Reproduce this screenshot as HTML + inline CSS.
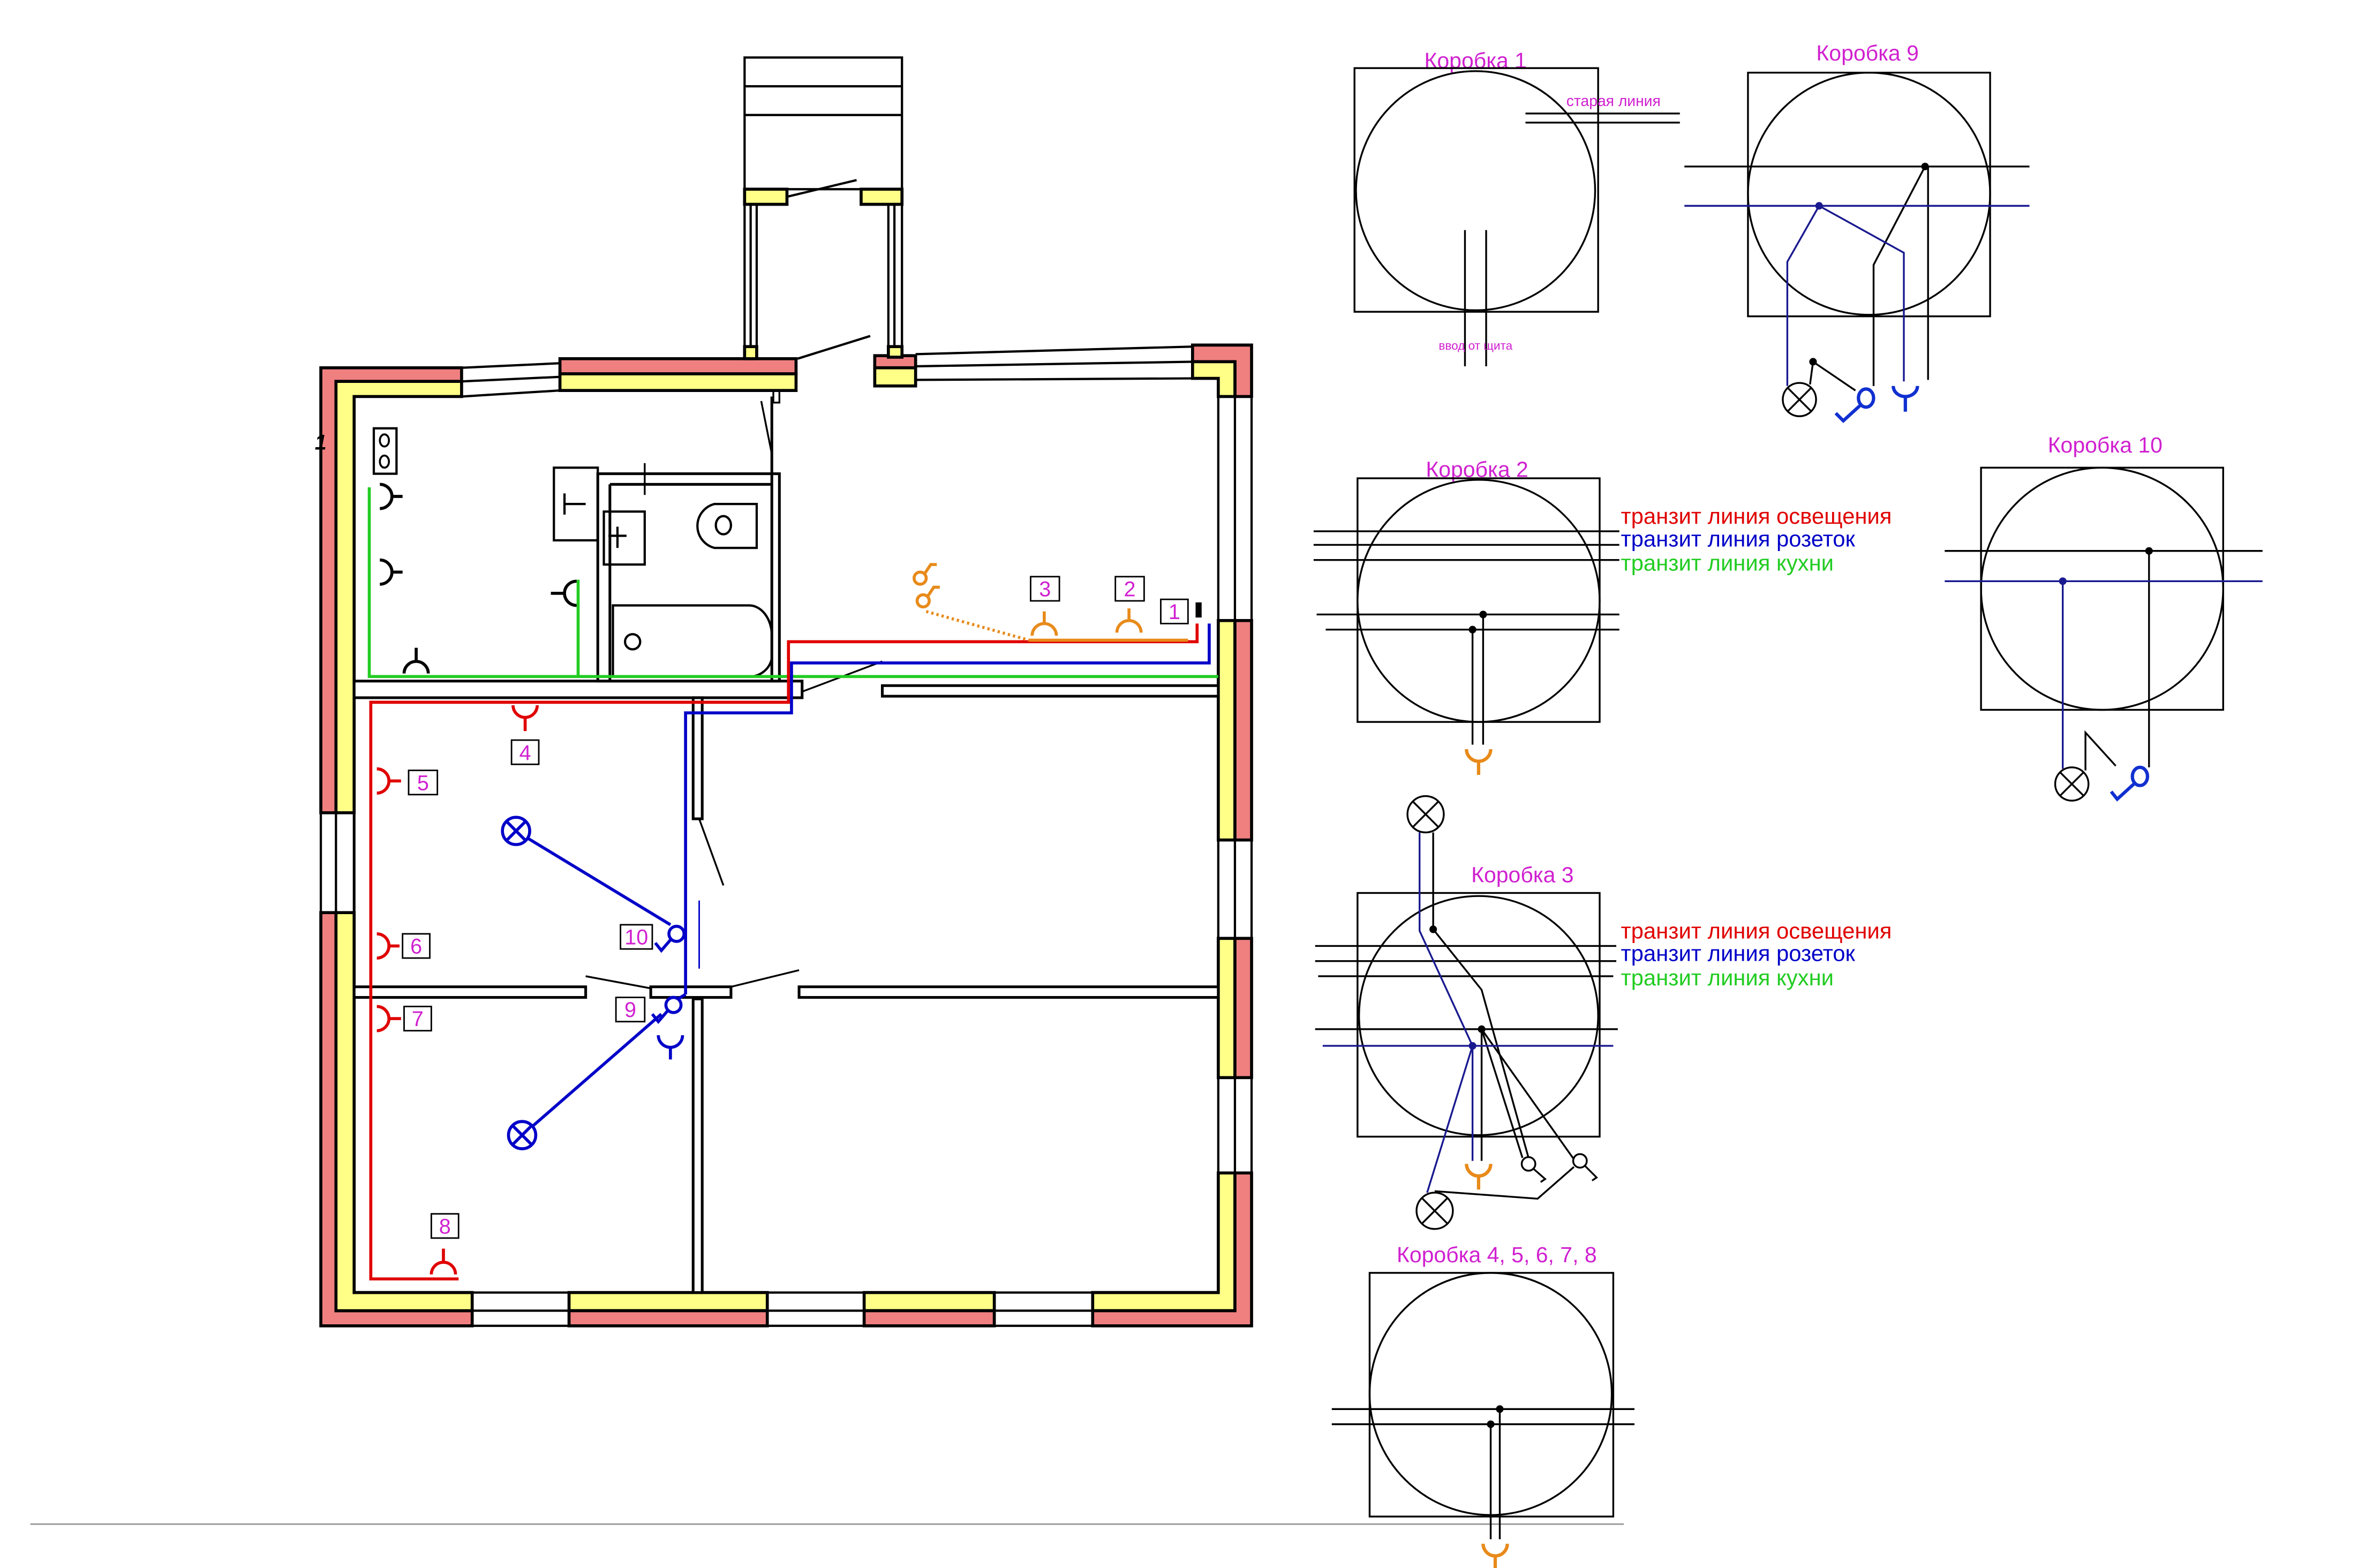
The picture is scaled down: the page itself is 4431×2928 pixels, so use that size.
<!DOCTYPE html>
<html><head><meta charset="utf-8"><style>
html,body{margin:0;padding:0;background:#fff;}
svg{display:block;}
text{font-family:"Liberation Sans","DejaVu Sans",sans-serif;}
</style></head><body>
<svg width="4431" height="2928" viewBox="0 0 1568 1036" preserveAspectRatio="none" xmlns="http://www.w3.org/2000/svg">
<rect x="0" y="0" width="1568" height="1036" fill="#fff"/>
<defs>
<g id="lamp"><circle r="9" fill="none" stroke-width="2"/><line x1="-6.4" y1="-6.4" x2="6.4" y2="6.4" stroke-width="2"/><line x1="-6.4" y1="6.4" x2="6.4" y2="-6.4" stroke-width="2"/></g>
</defs>

<!-- ===== Floor plan walls ===== -->
<g stroke="#000" stroke-width="2" stroke-linejoin="miter">
<polygon points="212,243 305,243 305,252 222,252 222,537 212,537" fill="#f08080"/>
<polygon points="222,252 305,252 305,262 234,262 234,537 222,537" fill="#ffff88"/>
<polygon points="212,603 222,603 222,866 312,866 312,876 212,876" fill="#f08080"/>
<polygon points="222,603 234,603 234,854 312,854 312,866 222,866" fill="#ffff88"/>
<rect x="376" y="854" width="131" height="12" fill="#ffff88"/><rect x="376" y="866" width="131" height="10" fill="#f08080"/>
<rect x="571" y="854" width="86" height="12" fill="#ffff88"/><rect x="571" y="866" width="86" height="10" fill="#f08080"/>
<polygon points="722,854 805,854 805,775 816,775 816,866 722,866" fill="#ffff88"/>
<polygon points="722,866 816,866 816,775 827,775 827,876 722,876" fill="#f08080"/>
<rect x="805" y="410" width="11" height="145" fill="#ffff88"/><rect x="816" y="410" width="11" height="145" fill="#f08080"/>
<rect x="805" y="620" width="11" height="92" fill="#ffff88"/><rect x="816" y="620" width="11" height="92" fill="#f08080"/>
<polygon points="788,228 827,228 827,262 816,262 816,239 788,239" fill="#f08080"/>
<polygon points="788,239 816,239 816,262 805,262 805,250 788,250" fill="#ffff88"/>
<rect x="370" y="237" width="156" height="10" fill="#f08080"/><rect x="370" y="247" width="156" height="11" fill="#ffff88"/>
<rect x="578" y="235" width="27" height="8" fill="#f08080"/><rect x="578" y="243" width="27" height="12" fill="#ffff88"/>
</g>
<g stroke="#000" stroke-width="1.5" fill="none">
<line x1="305" y1="243" x2="370" y2="240"/><line x1="305" y1="252" x2="370" y2="249"/><line x1="305" y1="262" x2="370" y2="258"/>
<line x1="605" y1="234" x2="788" y2="229"/><line x1="605" y1="242" x2="788" y2="239"/><line x1="605" y1="251" x2="788" y2="250"/>
<line x1="212" y1="537" x2="212" y2="603"/><line x1="222" y1="537" x2="222" y2="603"/><line x1="234" y1="537" x2="234" y2="603"/>
<line x1="312" y1="854" x2="376" y2="854"/><line x1="312" y1="866" x2="376" y2="866"/><line x1="312" y1="876" x2="376" y2="876"/>
<line x1="507" y1="854" x2="571" y2="854"/><line x1="507" y1="866" x2="571" y2="866"/><line x1="507" y1="876" x2="571" y2="876"/>
<line x1="657" y1="854" x2="722" y2="854"/><line x1="657" y1="866" x2="722" y2="866"/><line x1="657" y1="876" x2="722" y2="876"/>
<line x1="805" y1="262" x2="805" y2="410"/><line x1="816" y1="262" x2="816" y2="410"/><line x1="827" y1="262" x2="827" y2="410"/>
<line x1="805" y1="555" x2="805" y2="620"/><line x1="816" y1="555" x2="816" y2="620"/><line x1="827" y1="555" x2="827" y2="620"/>
<line x1="805" y1="712" x2="805" y2="775"/><line x1="816" y1="712" x2="816" y2="775"/><line x1="827" y1="712" x2="827" y2="775"/>
</g>
<g stroke="#000" stroke-width="1.5" fill="none">
<rect x="492" y="38" width="104" height="87"/>
<line x1="492" y1="57" x2="596" y2="57"/><line x1="492" y1="76" x2="596" y2="76"/>
<line x1="492" y1="135" x2="492" y2="230"/><line x1="496" y1="135" x2="496" y2="230"/><line x1="500" y1="135" x2="500" y2="230"/>
<line x1="587" y1="135" x2="587" y2="230"/><line x1="591" y1="135" x2="591" y2="230"/><line x1="596" y1="135" x2="596" y2="230"/>
<line x1="520" y1="130" x2="566" y2="119"/>
<line x1="527" y1="237" x2="575" y2="222"/>
</g>
<g stroke="#000" stroke-width="2">
<rect x="492" y="125" width="28" height="10" fill="#ffff88"/>
<rect x="569" y="125" width="27" height="10" fill="#ffff88"/>
<rect x="492" y="229" width="8" height="8" fill="#ffff88"/>
<rect x="587" y="229" width="9" height="7" fill="#ffff88"/>
</g>

<g stroke="#000" stroke-width="1.8" fill="none">
<line x1="234" y1="262" x2="234" y2="854"/>
<rect x="234" y="450" width="296" height="11" fill="#fff"/>
<rect x="583" y="453" width="222" height="7" fill="#fff"/>
<line x1="530" y1="457" x2="583" y2="437" stroke-width="1.2"/>
<rect x="458" y="461" width="6" height="80" fill="#fff"/>
<line x1="462" y1="541" x2="478" y2="585" stroke-width="1.2"/>
<rect x="458" y="660" width="6" height="194" fill="#fff"/>
<rect x="234" y="652" width="153" height="7" fill="#fff"/>
<rect x="528" y="652" width="277" height="7" fill="#fff"/>
<line x1="387" y1="645" x2="430" y2="653" stroke-width="1.2"/>
<line x1="483" y1="652" x2="528" y2="641" stroke-width="1.2"/>
<rect x="430" y="652" width="53" height="7" fill="#fff"/>
<rect x="395" y="313" width="120" height="137"/>
<line x1="403" y1="320" x2="403" y2="450"/>
<line x1="403" y1="320" x2="510" y2="320"/>
<line x1="510" y1="262" x2="510" y2="450"/>
<rect x="511" y="258" width="4" height="8" stroke-width="1.2"/>
<line x1="503" y1="265" x2="510" y2="300" stroke-width="1.2"/>
<line x1="426" y1="306" x2="426" y2="327" stroke-width="1.2"/>
<path d="M472,333 L500,333 L500,362 L472,362 A15,15 0 0 1 472,333 Z" stroke-width="1.5"/>
<ellipse cx="478" cy="347" rx="5" ry="6" stroke-width="1.5"/>
<path d="M405,447 L405,400 L495,400 A15,20 0 0 1 510,420 L510,435 A15,15 0 0 1 495,447 Z" stroke-width="1.5"/>
<ellipse cx="418" cy="424" rx="5" ry="5" stroke-width="1.5"/>
<rect x="399" y="338" width="27" height="35" stroke-width="1.5"/>
<line x1="402" y1="354" x2="414" y2="354" stroke-width="1.5"/><line x1="408" y1="348" x2="408" y2="362" stroke-width="1.5"/>
<rect x="366" y="309" width="29" height="48" stroke-width="1.5"/>
<line x1="373" y1="333" x2="387" y2="333" stroke-width="1.5"/><line x1="373" y1="326" x2="373" y2="340" stroke-width="1.5"/>
<rect x="247" y="283" width="15" height="30" stroke-width="1.5"/>
<ellipse cx="254" cy="291" rx="3" ry="4" stroke-width="1.3"/><ellipse cx="254" cy="305" rx="3" ry="4" stroke-width="1.3"/>
</g>
<text x="208" y="297" font-size="14" font-style="italic" font-weight="bold">1</text>

<g stroke="#22cc22" stroke-width="2" fill="none">
<polyline points="244,322 244,447 805,447"/>
<line x1="382" y1="383" x2="382" y2="447"/>
</g>
<g stroke="#000" stroke-width="2" fill="none">
<path d="M251,320 A8,8 0 0 1 251,336 M258,328 L266,328"/>
<path d="M251,370 A8,8 0 0 1 251,386 M258,378 L266,378"/>
<path d="M381,384 A8,8 0 0 0 381,400 M374,392 L364,392"/>
<path d="M267,445 A8,8 0 0 1 283,445 M275,437 L275,428"/>
</g>

<g stroke="#e00000" stroke-width="2" fill="none">
<polyline points="791,412 791,424 521,424 521,464 245,464 245,845 303,845"/>
<path d="M339,466 A8,8 0 0 0 355,466 M347,474 L347,483"/>
<path d="M249,508 A8,8 0 0 1 249,524 M256,516 L265,516"/>
<path d="M249,617 A8,8 0 0 1 249,633 M256,625 L264,625"/>
<path d="M249,665 A8,8 0 0 1 249,681 M256,673 L265,673"/>
<path d="M285,842 A8,8 0 0 1 301,842 M293,834 L293,825"/>
</g>
<g stroke="#0000c8" stroke-width="2" fill="none">
<polyline points="799,412 799,438 523,438 523,471 453,471 453,657"/>
<line x1="453" y1="657" x2="448" y2="660"/>
<line x1="349" y1="554" x2="443" y2="611"/>
<line x1="352" y1="744" x2="437" y2="670"/>
<line x1="462" y1="595" x2="462" y2="640" stroke-width="1"/>
<use href="#lamp" x="341" y="549" stroke="#0000c8"/>
<use href="#lamp" x="345" y="750" stroke="#0000c8"/>
<circle cx="447" cy="617" r="5"/><polyline points="443,621 437,628 433,623"/>
<circle cx="445" cy="664" r="5"/><polyline points="441,668 435,675 431,670"/>
<path d="M435,684 A8,8 0 0 0 451,684 M443,692 L443,700"/>
</g>
<g stroke="#e88a1a" stroke-width="2" fill="none">
<line x1="612" y1="404" x2="680" y2="423" stroke-dasharray="1.5,2"/>
<line x1="680" y1="423" x2="785" y2="423"/>
<path d="M682,420 A8,8 0 0 1 698,420 M690,412 L690,404"/>
<path d="M738,418 A8,8 0 0 1 754,418 M746,410 L746,402"/>
<circle cx="608" cy="382" r="4"/><polyline points="611,379 615,373 619,373"/>
<circle cx="610" cy="397" r="4"/><polyline points="613,394 617,388 621,388"/>
</g>
<rect x="790" y="398" width="4" height="10" fill="#000"/>

<g stroke="#000" stroke-width="1" fill="#fff">
<rect x="767" y="396" width="18" height="16"/><rect x="737" y="381" width="19" height="16"/><rect x="681" y="381" width="19" height="16"/>
<rect x="338" y="489" width="18" height="16"/><rect x="270" y="509" width="19" height="16"/><rect x="266" y="617" width="18" height="16"/>
<rect x="267" y="665" width="18" height="16"/><rect x="285" y="802" width="18" height="16"/><rect x="410" y="611" width="21" height="16"/>
<rect x="407" y="659" width="19" height="16"/>
</g>
<g fill="#d020d0" font-size="14" text-anchor="middle">
<text x="776" y="409">1</text><text x="746.5" y="394">2</text><text x="690.5" y="394">3</text>
<text x="347" y="502">4</text><text x="279.5" y="522">5</text><text x="275" y="630">6</text>
<text x="276" y="678">7</text><text x="294" y="815">8</text><text x="420.5" y="624">10</text><text x="416.5" y="672">9</text>
</g>

<line x1="20" y1="1007" x2="1073" y2="1007" stroke="#999" stroke-width="1"/>

<g fill="#d020d0" font-size="14.5" text-anchor="middle">
<text x="975" y="45">Коробка 1</text>
<text x="1234" y="40">Коробка 9</text>
<text x="976" y="315">Коробка 2</text>
<text x="1391" y="299">Коробка 10</text>
<text x="1006" y="583">Коробка 3</text>
<text x="989" y="834">Коробка 4, 5, 6, 7, 8</text>
</g>
<g stroke="#000" stroke-width="1.2" fill="none">
<rect x="895" y="45" width="161" height="161"/><circle cx="975" cy="126" r="79"/>
<line x1="1008" y1="75" x2="1110" y2="75"/><line x1="1008" y1="81" x2="1110" y2="81"/>
<line x1="968" y1="152" x2="968" y2="242"/><line x1="982" y1="152" x2="982" y2="242"/>
<rect x="1155" y="48" width="160" height="161"/><circle cx="1235" cy="128" r="80"/>
<line x1="1113" y1="110" x2="1341" y2="110"/>
<polyline points="1272,110 1238,175 1238,255"/>
<line x1="1274" y1="110" x2="1274" y2="251"/>
<line x1="1198" y1="239" x2="1196" y2="254"/><line x1="1198" y1="239" x2="1226" y2="258"/>
<rect x="897" y="316" width="160" height="161"/><circle cx="977" cy="397" r="80"/>
<line x1="868" y1="351" x2="1070" y2="351"/><line x1="868" y1="360" x2="1070" y2="360"/><line x1="868" y1="370" x2="1070" y2="370"/>
<line x1="870" y1="406" x2="1070" y2="406"/><line x1="876" y1="416" x2="1070" y2="416"/>
<line x1="973" y1="416" x2="973" y2="492"/><line x1="980" y1="406" x2="980" y2="492"/>
<rect x="1309" y="309" width="160" height="160"/><circle cx="1389" cy="389" r="80"/>
<line x1="1285" y1="364" x2="1495" y2="364"/>
<line x1="1420" y1="364" x2="1420" y2="507"/>
<polyline points="1378,509 1378,484 1398,506"/>
<rect x="897" y="590" width="160" height="161"/><circle cx="977" cy="671" r="79"/>
<line x1="869" y1="625" x2="1068" y2="625"/><line x1="869" y1="635" x2="1068" y2="635"/><line x1="871" y1="645" x2="1066" y2="645"/>
<line x1="869" y1="680" x2="1069" y2="680"/>
<polyline points="947,550 947,614 979,654 1010,765"/>
<line x1="979" y1="680" x2="979" y2="767"/>
<line x1="979" y1="680" x2="1006" y2="765"/>
<line x1="979" y1="680" x2="1040" y2="766"/>
<polyline points="948,787 1016,792 1040,771"/>
<circle cx="1010" cy="769" r="4.5"/><polyline points="1013,772 1021,779 1018,781"/>
<circle cx="1044" cy="767" r="4.5"/><polyline points="1047,770 1055,778 1052,780"/>
<rect x="905" y="841" width="161" height="161"/><circle cx="985" cy="921" r="80"/>
<line x1="880" y1="931" x2="1080" y2="931"/><line x1="880" y1="941" x2="1080" y2="941"/>
<line x1="985" y1="941" x2="985" y2="1017"/><line x1="991" y1="931" x2="991" y2="1017"/>
</g>
<g stroke="#1a1a90" stroke-width="1.2" fill="none">
<line x1="1113" y1="136" x2="1341" y2="136"/>
<polyline points="1202,136 1181,173 1181,255"/>
<polyline points="1202,136 1258,167 1258,252"/>
<line x1="1285" y1="384" x2="1495" y2="384"/>
<line x1="1363" y1="384" x2="1363" y2="508"/>
<line x1="874" y1="691" x2="1066" y2="691"/>
<polyline points="938,550 938,615 973,691"/>
<line x1="973" y1="691" x2="973" y2="767"/>
<line x1="973" y1="691" x2="943" y2="788"/>
</g>
<g fill="#000">
<circle cx="1272" cy="110" r="2.5"/><circle cx="1198" cy="239" r="2.5"/>
<circle cx="980" cy="406" r="2.5"/><circle cx="973" cy="416" r="2.5"/>
<circle cx="1420" cy="364" r="2.5"/>
<circle cx="947" cy="614" r="2.5"/><circle cx="979" cy="680" r="2.5"/>
<circle cx="991" cy="931" r="2.5"/><circle cx="985" cy="941" r="2.5"/>
</g>
<g fill="#1a1a90">
<circle cx="1202" cy="136" r="2.5"/><circle cx="1363" cy="384" r="2.5"/><circle cx="973" cy="691" r="2.5"/>
</g>
<g stroke="#000" stroke-width="1.2" fill="none">
<circle cx="1189" cy="264" r="11"/><line x1="1181" y1="256" x2="1197" y2="272"/><line x1="1181" y1="272" x2="1197" y2="256"/>
<circle cx="942" cy="538" r="12"/><line x1="933.5" y1="529.5" x2="950.5" y2="546.5"/><line x1="933.5" y1="546.5" x2="950.5" y2="529.5"/>
<circle cx="948" cy="800" r="12"/><line x1="939.5" y1="791.5" x2="956.5" y2="808.5"/><line x1="939.5" y1="808.5" x2="956.5" y2="791.5"/>
<circle cx="1369" cy="518" r="11"/><line x1="1361" y1="510" x2="1377" y2="526"/><line x1="1361" y1="526" x2="1377" y2="510"/>
</g>
<g stroke="#1030d0" stroke-width="2.2" fill="none">
<ellipse cx="1233" cy="263" rx="5" ry="6"/><polyline points="1229,268 1218,278 1213,273"/>
<path d="M1251,255 A8,7 0 0 0 1267,255 M1259,262 L1259,272"/>
<ellipse cx="1414" cy="513" rx="5" ry="6"/><polyline points="1410,518 1399,528 1395,523"/>
</g>
<g stroke="#e88a1a" stroke-width="2.2" fill="none">
<path d="M969,495 A8,8 0 0 0 985,495 M977,503 L977,512"/>
<path d="M969,769 A8,8 0 0 0 985,769 M977,777 L977,786"/>
<path d="M980,1020 A8,8 0 0 0 996,1020 M988,1028 L988,1036"/>
</g>
<text x="1035" y="70" font-size="10" fill="#d020d0">старая линия</text>
<text x="975" y="231" font-size="8" fill="#d020d0" text-anchor="middle">ввод от щита</text>
<g font-size="14.8">
<text x="1071" y="346" fill="#e00000">транзит линия освещения</text>
<text x="1071" y="361" fill="#0000c8">транзит линия розеток</text>
<text x="1071" y="377" fill="#22cc22">транзит линия кухни</text>
<text x="1071" y="620" fill="#e00000">транзит линия освещения</text>
<text x="1071" y="635" fill="#0000c8">транзит линия розеток</text>
<text x="1071" y="651" fill="#22cc22">транзит линия кухни</text>
</g>
</svg>
</body></html>
